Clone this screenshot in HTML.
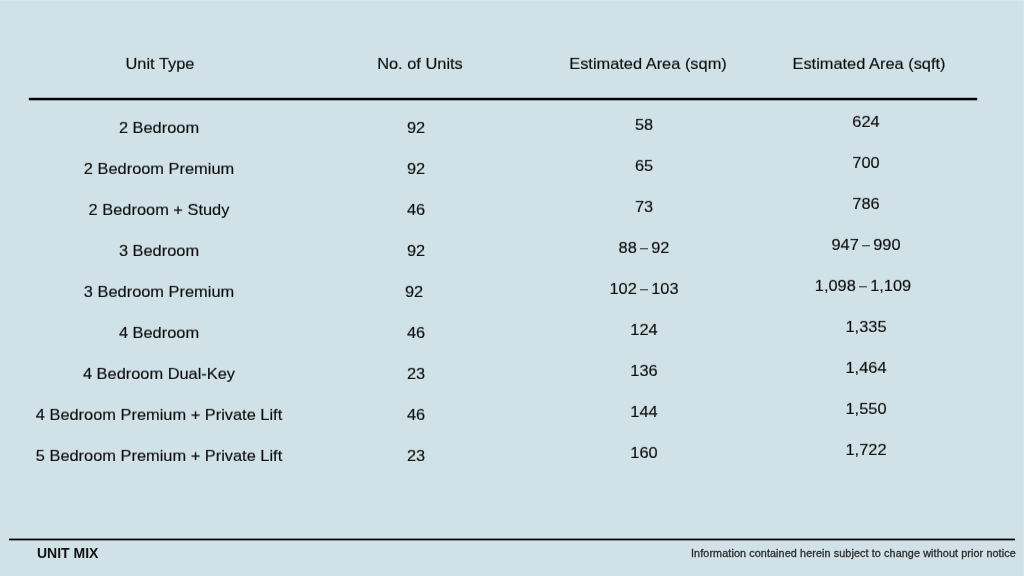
<!DOCTYPE html>
<html><head><meta charset="utf-8"><style>
html,body{margin:0;padding:0;}
body{width:1024px;height:576px;overflow:hidden;position:relative;background:#d0e2e7;font-family:"Liberation Sans",sans-serif;color:#0c0c0c;}
.c{position:absolute;will-change:transform;-webkit-text-stroke:0.15px #0c0c0c;transform:scaleY(0.93);transform-origin:50% 15.7px;width:400px;text-align:center;font-size:16.4px;line-height:20px;white-space:nowrap;}
.d{display:inline-block;width:14.4px;height:1.3px;vertical-align:3.8px;background:linear-gradient(to right,transparent 3.4px,#0c0c0c 3.4px,#0c0c0c 10.9px,transparent 10.9px);}
.ft{position:absolute;will-change:transform;white-space:nowrap;}
</style></head><body>
<svg width="1024" height="576" style="position:absolute;left:0;top:0"><rect x="28.8" y="97.8" width="948.4" height="2.5" fill="#000"/><rect x="9" y="538.6" width="1006" height="1.75" fill="#000"/><rect x="0" y="0" width="1024" height="1" fill="#d7e7eb"/><rect x="1023" y="0" width="1" height="576" fill="#d5e6ea"/><rect x="0" y="1" width="1" height="575" fill="#d2e3e8"/></svg>
<div class="c" style="left:-40.30px;top:53.00px">Unit Type</div>
<div class="c" style="left:219.90px;top:53.00px">No. of Units</div>
<div class="c" style="left:447.50px;top:53.00px">Estimated Area (sqm)</div>
<div class="c" style="left:669.20px;top:53.00px">Estimated Area (sqft)</div>
<div class="c" style="left:-41.00px;top:117.00px">2 Bedroom</div>
<div class="c" style="left:215.80px;top:117.00px">92</div>
<div class="c" style="left:443.80px;top:114.00px">58</div>
<div class="c" style="left:666.00px;top:111.00px">624</div>
<div class="c" style="left:-41.00px;top:158.00px">2 Bedroom Premium</div>
<div class="c" style="left:215.80px;top:158.00px">92</div>
<div class="c" style="left:443.80px;top:155.00px">65</div>
<div class="c" style="left:666.00px;top:152.00px">700</div>
<div class="c" style="left:-41.00px;top:199.00px">2 Bedroom + Study</div>
<div class="c" style="left:215.80px;top:199.00px">46</div>
<div class="c" style="left:443.80px;top:196.00px">73</div>
<div class="c" style="left:666.00px;top:193.00px">786</div>
<div class="c" style="left:-41.00px;top:240.00px">3 Bedroom</div>
<div class="c" style="left:215.80px;top:240.00px">92</div>
<div class="c" style="left:443.80px;top:237.00px">88<span class="d"></span>92</div>
<div class="c" style="left:666.00px;top:234.00px">947<span class="d"></span>990</div>
<div class="c" style="left:-41.00px;top:281.00px">3 Bedroom Premium</div>
<div class="c" style="left:214.40px;top:281.00px">92</div>
<div class="c" style="left:443.80px;top:278.00px">102<span class="d"></span>103</div>
<div class="c" style="left:663.00px;top:275.00px">1,098<span class="d"></span>1,109</div>
<div class="c" style="left:-41.00px;top:322.00px">4 Bedroom</div>
<div class="c" style="left:215.80px;top:322.00px">46</div>
<div class="c" style="left:443.80px;top:319.00px">124</div>
<div class="c" style="left:666.00px;top:316.00px">1,335</div>
<div class="c" style="left:-41.00px;top:363.00px">4 Bedroom Dual-Key</div>
<div class="c" style="left:215.80px;top:363.00px">23</div>
<div class="c" style="left:443.80px;top:360.00px">136</div>
<div class="c" style="left:666.00px;top:357.00px">1,464</div>
<div class="c" style="left:-41.00px;top:404.00px">4 Bedroom Premium + Private Lift</div>
<div class="c" style="left:215.80px;top:404.00px">46</div>
<div class="c" style="left:443.80px;top:401.00px">144</div>
<div class="c" style="left:666.00px;top:398.00px">1,550</div>
<div class="c" style="left:-41.00px;top:445.00px">5 Bedroom Premium + Private Lift</div>
<div class="c" style="left:215.80px;top:445.00px">23</div>
<div class="c" style="left:443.80px;top:442.00px">160</div>
<div class="c" style="left:666.00px;top:439.00px">1,722</div>
<div class="ft" id="um" style="left:37px;top:544px;font-size:14px;line-height:18px;font-weight:bold;color:#111">UNIT MIX</div>
<div class="ft" id="info" style="left:691px;top:546px;font-size:10.8px;line-height:14px;letter-spacing:0.1px;-webkit-text-stroke:0.3px #2b2b2b;color:#2b2b2b">Information contained herein subject to change without prior notice</div>
</body></html>
